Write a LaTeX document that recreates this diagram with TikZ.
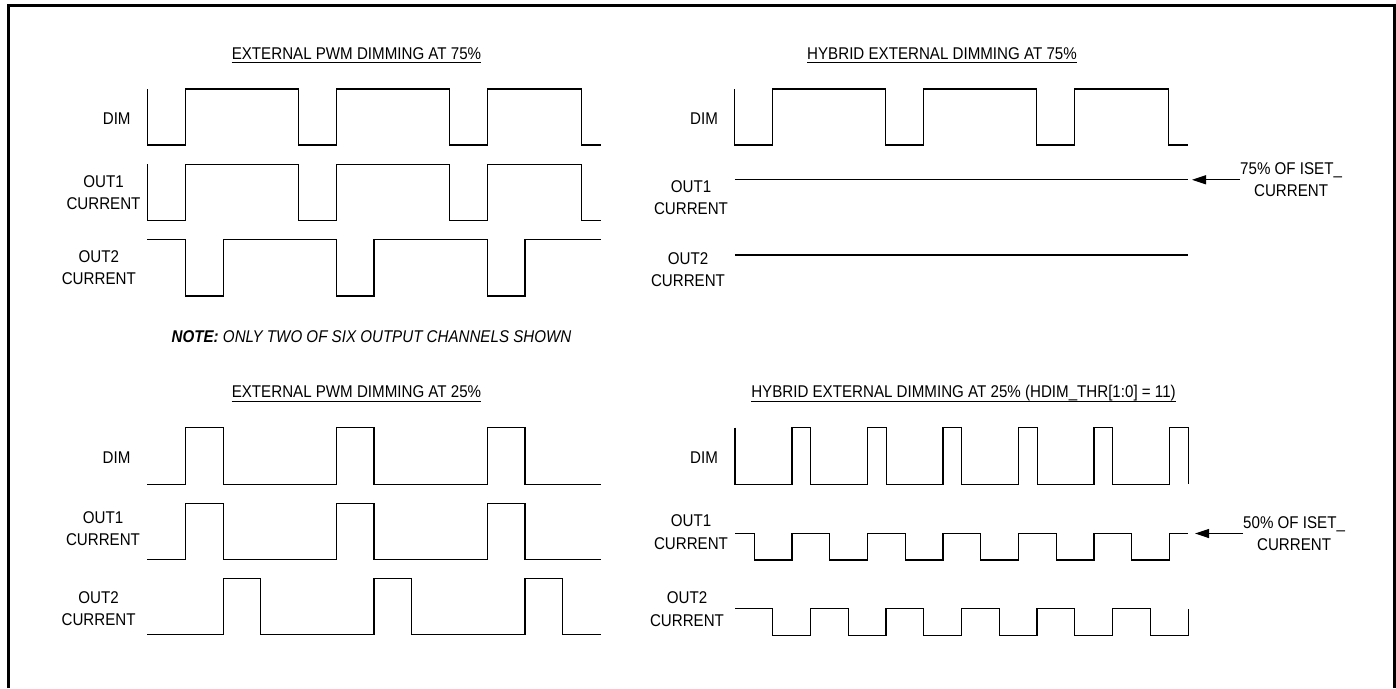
\documentclass[tikz,border=0pt]{standalone}
\usepackage{fontspec}
\setmainfont{Liberation Sans}[FakeStretch=0.89]
\usetikzlibrary{arrows.meta}
\tikzset{
  wave/.style={line width=1.1pt, line join=miter},
  frameline/.style={line width=3pt},
  lbl/.style={inner sep=0pt, align=center, font=\fontsize{17pt}{22.3pt}\selectfont},
  ttl/.style={inner sep=0pt, anchor=base, font=\fontsize{17pt}{20pt}\selectfont},
  uline/.style={line width=1pt},
  callout/.style={line width=1.2pt, -{Triangle[length=14pt,width=9pt]}}
}
\begin{document}
\begin{tikzpicture}[x=1pt,y=-1pt]
\useasboundingbox (0,0) rectangle (1396,688);
% frame (bottom edge outside the picture)
\draw[frameline] (8,688) -- (8,5.8) -- (1394,5.8) -- (1394,688);

% ---------- titles ----------
\node[ttl] (t1) at (356.5,59) {EXTERNAL PWM DIMMING AT 75\%};
\node[ttl] (t2) at (942,59) {HYBRID EXTERNAL DIMMING AT 75\%};
\node[ttl] (t3) at (356.5,397.7) {EXTERNAL PWM DIMMING AT 25\%};
\node[ttl] (t4) at (963.5,397.7) {HYBRID EXTERNAL DIMMING AT 25\% (HDIM\_THR[1:0] = 11)};
\foreach \t in {t1,t2,t3,t4}
  \draw[uline] ([yshift=-3.3pt]\t.base west) -- ([yshift=-3.3pt]\t.base east);

\node[lbl, font=\fontsize{17pt}{20pt}\selectfont\itshape] (note) at (371.5,337) {\textbf{NOTE:} ONLY TWO OF SIX OUTPUT CHANNELS SHOWN};

% ---------- labels ----------
\node[lbl] (l1a) at (116.7,118.3) {DIM};
\node[lbl] (l1b) at (103.5,192.8) {OUT1\\CURRENT};
\node[lbl] (l1c) at (98.8,267.9) {OUT2\\CURRENT};
\node[lbl] (l2a) at (704,118.3) {DIM};
\node[lbl] (l2b) at (691,197.8) {OUT1\\CURRENT};
\node[lbl] (l2c) at (688,269.4) {OUT2\\CURRENT};
\node[lbl] (l3a) at (116.6,457.7) {DIM};
\node[lbl] (l3b) at (103,528.3) {OUT1\\CURRENT};
\node[lbl] (l3c) at (98.6,608.8) {OUT2\\CURRENT};
\node[lbl] (l4a) at (704,457.7) {DIM};
\node[lbl] (l4b) at (691,532.2) {OUT1\\CURRENT};
\node[lbl] (l4c) at (687,609.2) {OUT2\\CURRENT};

% ---------- top-left: external PWM 75% ----------
\draw[wave] (147.4,89) -- (147.4,145) -- (185.1,145) -- (185.1,89) -- (298.4,89) -- (298.4,145) -- (336.1,145) -- (336.1,89) -- (449.4,89) -- (449.4,145) -- (487.1,145) -- (487.1,89) -- (581.4,89) -- (581.4,145) -- (600.8,145);
\draw[wave] (147.4,164.3) -- (147.4,220.3) -- (185.1,220.3) -- (185.1,164.3) -- (298.4,164.3) -- (298.4,220.3) -- (336.1,220.3) -- (336.1,164.3) -- (449.4,164.3) -- (449.4,220.3) -- (487.1,220.3) -- (487.1,164.3) -- (581.4,164.3) -- (581.4,220.3) -- (600.8,220.3);
\draw[wave] (147.4,239.3) -- (185.1,239.3) -- (185.1,296) -- (223.3,296) -- (223.3,239.3) -- (336.1,239.3) -- (336.1,296) -- (374,296) -- (374,239.3) -- (487.1,239.3) -- (487.1,296) -- (525,296) -- (525,239.3) -- (600.8,239.3);

% ---------- top-right: hybrid 75% ----------
\begin{scope}[xshift=587.5pt]
\draw[wave] (147.4,89) -- (147.4,145) -- (185.1,145) -- (185.1,89) -- (298.4,89) -- (298.4,145) -- (336.1,145) -- (336.1,89) -- (449.4,89) -- (449.4,145) -- (487.1,145) -- (487.1,89) -- (581.4,89) -- (581.4,145) -- (600.8,145);
\end{scope}
\draw[wave] (734.9,179.3) -- (1188.3,179.3);
\draw[wave] (734.9,255) -- (1188.3,255);
\node[lbl, anchor=west] (c75) at (1240,179.8) {75\% OF ISET\_\\CURRENT};
\coordinate (tip75) at (1192,179.8);
\draw[callout] (c75.west) -- (tip75);

% ---------- bottom-left: external PWM 25% ----------
\draw[wave] (147.4,484.3) -- (185.1,484.3) -- (185.1,427.7) -- (223.3,427.7) -- (223.3,484.3) -- (336.1,484.3) -- (336.1,427.7) -- (374,427.7) -- (374,484.3) -- (487.1,484.3) -- (487.1,427.7) -- (525,427.7) -- (525,484.3) -- (600.8,484.3);
\draw[wave] (147.4,559.3) -- (185.1,559.3) -- (185.1,503.3) -- (223.3,503.3) -- (223.3,559.3) -- (336.1,559.3) -- (336.1,503.3) -- (374,503.3) -- (374,559.3) -- (487.1,559.3) -- (487.1,503.3) -- (525,503.3) -- (525,559.3) -- (600.8,559.3);
\draw[wave] (147.4,634.3) -- (223.3,634.3) -- (223.3,578.3) -- (260.9,578.3) -- (260.9,634.3) -- (374,634.3) -- (374,578.3) -- (411.5,578.3) -- (411.5,634.3) -- (525,634.3) -- (525,578.3) -- (562.5,578.3) -- (562.5,634.3) -- (600.8,634.3);

% ---------- bottom-right: hybrid 25% ----------
\draw[wave] (735,427.7) -- (735,484.3) -- (792,484.3) -- (792,427.7) -- (810.9,427.7) -- (810.9,484.3) -- (867.5,484.3) -- (867.5,427.7) -- (886.4,427.7) -- (886.4,484.3) -- (943,484.3) -- (943,427.7) -- (961.9,427.7) -- (961.9,484.3) -- (1018.5,484.3) -- (1018.5,427.7) -- (1037.4,427.7) -- (1037.4,484.3) -- (1094,484.3) -- (1094,427.7) -- (1112.9,427.7) -- (1112.9,484.3) -- (1169.5,484.3) -- (1169.5,427.7) -- (1188.3,427.7) -- (1188.3,484.3);
\draw[wave] (735,533.3) -- (754.2,533.3) -- (754.2,560) -- (792,560) -- (792,533.3) -- (829.8,533.3) -- (829.8,560) -- (867.5,560) -- (867.5,533.3) -- (905.3,533.3) -- (905.3,560) -- (943,560) -- (943,533.3) -- (980.8,533.3) -- (980.8,560) -- (1018.5,560) -- (1018.5,533.3) -- (1056.3,533.3) -- (1056.3,560) -- (1094,560) -- (1094,533.3) -- (1131.8,533.3) -- (1131.8,560) -- (1169.5,560) -- (1169.5,533.3) -- (1188.3,533.3);
\draw[wave] (735,608.7) -- (772.8,608.7) -- (772.8,635.3) -- (810.5,635.3) -- (810.5,608.7) -- (848.3,608.7) -- (848.3,635.3) -- (886,635.3) -- (886,608.7) -- (923.8,608.7) -- (923.8,635.3) -- (961.5,635.3) -- (961.5,608.7) -- (999.3,608.7) -- (999.3,635.3) -- (1037,635.3) -- (1037,608.7) -- (1074.8,608.7) -- (1074.8,635.3) -- (1112.5,635.3) -- (1112.5,608.7) -- (1150.3,608.7) -- (1150.3,635.3) -- (1188.3,635.3) -- (1188.3,608.7);
\node[lbl, anchor=west] (c50) at (1243,533.5) {50\% OF ISET\_\\CURRENT};
\coordinate (tip50) at (1195,533.5);
\draw[callout] (c50.west) -- (tip50);
\end{tikzpicture}
\end{document}
